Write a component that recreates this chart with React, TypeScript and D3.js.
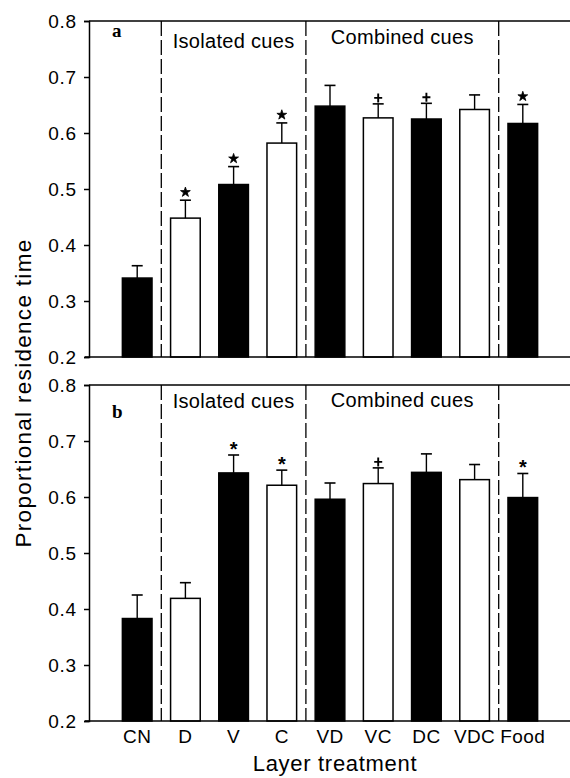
import { useRef, useEffect } from 'react';
import * as d3 from 'd3';

// Layer treatments, left to right
const categories = ['CN', 'D', 'V', 'C', 'VD', 'VC', 'DC', 'VDC', 'Food'];
const filled = [true, false, true, false, true, false, true, false, true];

// panel a
const meansA = [0.341, 0.448, 0.508, 0.582, 0.648, 0.627, 0.625, 0.642, 0.617];
const upperA = [0.363, 0.480, 0.540, 0.618, 0.685, 0.652, 0.653, 0.668, 0.651];
const marksA = ['', '*', '*', '*', '', '+', '+', '', '*'];

// panel b
const meansB = [0.383, 0.419, 0.643, 0.621, 0.596, 0.624, 0.644, 0.631, 0.599];
const upperB = [0.425, 0.447, 0.675, 0.648, 0.625, 0.652, 0.677, 0.658, 0.642];
const marksB = ['', '', '*', '*', '', '+', '', '', '*'];

const yTicks = [0.2, 0.3, 0.4, 0.5, 0.6, 0.7, 0.8];
const dividersAfter = ['CN', 'C', 'VDC'];
const groupLabels = ['Isolated cues', 'Combined cues'];

const W = 570;
const H = 778;
const FONT = '"Liberation Sans", Arial, Helvetica, sans-serif';

export default function App() {
  const svgRef = useRef<SVGSVGElement>(null);

  useEffect(() => {
    if (!svgRef.current) return;
    const svg = d3.select(svgRef.current);
    svg.selectAll('*').remove();

    const left = 89;
    const right = 571;
    const x = d3.scaleLinear().domain([0, categories.length + 1]).range([left, right]);
    const barW = x(0.615) - x(0);
    const cx = (i: number) => x(i + 1);

    const panels = [
      { label: 'a', means: meansA, upper: upperA, marks: marksA, top: 21, bottom: 357, labelDy: 15.7, groupDy: [26.7, 23], star: 'shape' },
      { label: 'b', means: meansB, upper: upperB, marks: marksB, top: 385, bottom: 721, labelDy: 32.7, groupDy: [22.7, 21.7], star: 'text' },
    ];

    panels.forEach(p => {
      const y = d3.scaleLinear().domain([0.2, 0.8]).range([p.bottom, p.top]);
      const g = svg.append('g');

      // bars
      g.selectAll('rect.bar')
        .data(categories)
        .join('rect')
        .attr('class', 'bar')
        .attr('x', (d, i) => cx(i) - barW / 2)
        .attr('y', (d, i) => y(p.means[i]))
        .attr('width', barW)
        .attr('height', (d, i) => y(0.2) - y(p.means[i]))
        .attr('fill', (d, i) => (filled[i] ? '#000' : '#fff'))
        .attr('stroke', '#000')
        .attr('stroke-width', 1.5);

      // error bars (upper only)
      g.selectAll('line.err')
        .data(categories)
        .join('line')
        .attr('class', 'err')
        .attr('x1', (d, i) => cx(i))
        .attr('x2', (d, i) => cx(i))
        .attr('y1', (d, i) => y(p.means[i]))
        .attr('y2', (d, i) => y(p.upper[i]))
        .attr('stroke', '#000')
        .attr('stroke-width', 1.4);
      g.selectAll('line.cap')
        .data(categories)
        .join('line')
        .attr('class', 'cap')
        .attr('x1', (d, i) => cx(i) - 5.5)
        .attr('x2', (d, i) => cx(i) + 5.5)
        .attr('y1', (d, i) => y(p.upper[i]))
        .attr('y2', (d, i) => y(p.upper[i]))
        .attr('stroke', '#000')
        .attr('stroke-width', 1.6);

      // significance marks
      categories.forEach((c, i) => {
        const m = p.marks[i];
        const capY = y(p.upper[i]);
        if (m === '*') {
          if (p.star === 'shape') {
            g.append('path')
              .attr('d', d3.symbol(d3.symbolStar, 30)())
              .attr('transform', `translate(${cx(i)},${capY - 8})`)
              .attr('fill', '#000')
              .attr('stroke', '#000')
              .attr('stroke-width', 0.8);
          } else {
            g.append('text')
              .attr('x', cx(i))
              .attr('y', capY + 0.5)
              .attr('text-anchor', 'middle')
              .attr('font-family', FONT)
              .attr('font-weight', 'bold')
              .attr('font-size', 20)
              .text('*');
          }
        } else if (m === '+') {
          const my = capY - 6;
          g.append('path')
            .attr('d', `M${cx(i) - 4},${my}H${cx(i) + 4}M${cx(i)},${my - 4.5}V${my + 4.5}`)
            .attr('stroke', '#000')
            .attr('stroke-width', 1.9)
            .attr('fill', 'none');
        }
      });

      // dashed dividers
      const divX = dividersAfter.map(c => {
        const i = categories.indexOf(c);
        return (cx(i) + cx(i + 1)) / 2;
      });
      g.selectAll('line.div')
        .data(divX)
        .join('line')
        .attr('class', 'div')
        .attr('x1', d => d)
        .attr('x2', d => d)
        .attr('y1', p.top)
        .attr('y2', p.bottom)
        .attr('stroke', '#000')
        .attr('stroke-width', 1.3)
        .attr('stroke-dasharray', '15,4');

      // group headings
      groupLabels.forEach((t, k) => {
        g.append('text')
          .attr('x', (divX[k] + divX[k + 1]) / 2)
          .attr('y', p.top + p.groupDy[k])
          .attr('text-anchor', 'middle')
          .attr('font-family', FONT)
          .attr('font-size', 20)
          .attr('letter-spacing', 0.3)
          .text(t);
      });

      // panel letter
      g.append('text')
        .attr('x', 112)
        .attr('y', p.top + p.labelDy)
        .attr('font-family', '"Liberation Serif", "Times New Roman", serif')
        .attr('font-weight', 'bold')
        .attr('font-size', 19)
        .text(p.label);

      // frame: top line, x axis line
      g.append('line')
        .attr('x1', left).attr('x2', W)
        .attr('y1', p.top).attr('y2', p.top)
        .attr('stroke', '#000').attr('stroke-width', 1.6);
      g.append('line')
        .attr('x1', left - 4).attr('x2', W)
        .attr('y1', p.bottom).attr('y2', p.bottom)
        .attr('stroke', '#000').attr('stroke-width', 1.6);

      const axis = d3.axisLeft(y).tickValues(yTicks).tickFormat(d3.format('.1f')).tickSize(5).tickPadding(7);
      const ag = g.append('g').attr('transform', `translate(${left},0)`).call(axis);
      ag.select('.domain').attr('stroke', '#000').attr('stroke-width', 1.5);
      ag.selectAll('.tick line').attr('stroke', '#000').attr('stroke-width', 1.5);
      ag.selectAll('.tick text')
        .attr('font-family', FONT)
        .attr('font-size', 19)
        .attr('letter-spacing', 0.8)
        .attr('fill', '#000');
    });

    // category labels under panel b
    const yBase = 721;
    svg.selectAll('text.cat')
      .data(categories)
      .join('text')
      .attr('class', 'cat')
      .attr('x', (d, i) => cx(i))
      .attr('y', yBase + 22)
      .attr('text-anchor', 'middle')
      .attr('font-family', FONT)
      .attr('font-size', 19)
      .attr('letter-spacing', 0.4)
      .text(d => d);

    svg.append('text')
      .attr('x', 335)
      .attr('y', 771)
      .attr('text-anchor', 'middle')
      .attr('font-family', FONT)
      .attr('font-size', 22)
      .attr('letter-spacing', 0.7)
      .text('Layer treatment');

    svg.append('text')
      .attr('transform', 'translate(30.5,393) rotate(-90)')
      .attr('text-anchor', 'middle')
      .attr('font-family', FONT)
      .attr('font-size', 22.5)
      .attr('letter-spacing', 1.3)
      .text('Proportional residence time');
  }, []);

  return (
    <svg
      ref={svgRef}
      width={W}
      height={H}
      style={{ position: 'absolute', left: 0, top: 0, background: '#fff' }}
    />
  );
}
